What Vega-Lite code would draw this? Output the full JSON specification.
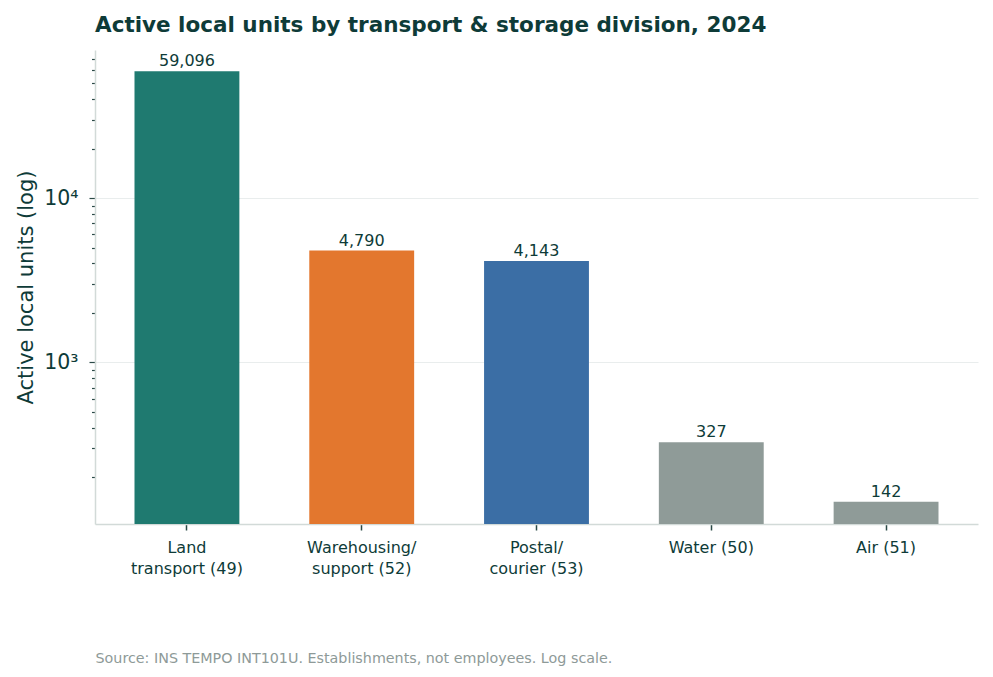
{
  "$schema": "https://vega.github.io/schema/vega-lite/v6.json",
  "autosize": "none",
  "width": 883,
  "height": 474,
  "padding": {"left": 95, "top": 50, "right": 15, "bottom": 153},
  "background": "white",
  "title": {
    "text": "Active local units by transport & storage division, 2024",
    "anchor": "start",
    "frame": "group",
    "font": "DejaVu Sans",
    "fontSize": 21.5,
    "fontWeight": "bold",
    "color": "#0e3b38",
    "offset": 14
  },
  "config": {
    "view": {"stroke": null},
    "font": "DejaVu Sans"
  },
  "data": {
    "values": [
      {"division": "Land\ntransport (49)", "units": 59096, "group": "land"},
      {"division": "Warehousing/\nsupport (52)", "units": 4790, "group": "warehousing"},
      {"division": "Postal/\ncourier (53)", "units": 4143, "group": "postal"},
      {"division": "Water (50)", "units": 327, "group": "other"},
      {"division": "Air (51)", "units": 142, "group": "other"}
    ]
  },
  "encoding": {
    "x": {
      "field": "division",
      "type": "nominal",
      "sort": null,
      "scale": {"paddingInner": 0.4, "paddingOuter": 0.226},
      "axis": {
        "title": "Source: INS TEMPO INT101U. Establishments, not employees. Log scale.",
        "titleAnchor": "start",
        "titleFontSize": 14.3,
        "titleFontWeight": "normal",
        "titleColor": "#8e9a98",
        "titlePadding": 75,
        "labelAngle": 0,
        "labelFontSize": 16,
        "labelColor": "#0e3b38",
        "labelLineHeight": 21,
        "labelPadding": 9,
        "labelExpr": "split(datum.label, '\\n')",
        "tickSize": 6,
        "tickColor": "#2b4a47",
        "tickWidth": 1.5,
        "domainColor": "#d2dad8",
        "domainWidth": 1.5
      }
    },
    "y": {
      "field": "units",
      "type": "quantitative",
      "scale": {"type": "log", "domain": [104, 79500], "nice": false},
      "axis": {
        "title": "Active local units (log)",
        "titleFontSize": 21,
        "titleFontWeight": "normal",
        "titleColor": "#0e3b38",
        "titlePadding": 7,
        "values": [200, 300, 400, 500, 600, 700, 800, 900, 1000, 2000, 3000, 4000, 5000, 6000, 7000, 8000, 9000, 10000, 20000, 30000, 40000, 50000, 60000, 70000],
        "labelExpr": "datum.value === 1000 ? '10³' : datum.value === 10000 ? '10⁴' : ''",
        "labelFontSize": 20.5,
        "labelColor": "#0e3b38",
        "labelPadding": 11,
        "tickColor": "#2b4a47",
        "tickSize": {"condition": {"test": "datum.value === 1000 || datum.value === 10000", "value": 6}, "value": 3.5},
        "tickWidth": 1.2,
        "grid": true,
        "gridColor": "#e9eded",
        "gridWidth": 1.2,
        "gridOpacity": {"condition": {"test": "datum.value === 1000 || datum.value === 10000", "value": 1}, "value": 0},
        "domainColor": "#d2dad8",
        "domainWidth": 1.5
      }
    }
  },
  "layer": [
    {
      "mark": {"type": "bar"},
      "encoding": {
        "y2": {"datum": 104},
        "color": {
          "field": "group",
          "type": "nominal",
          "scale": {
            "domain": ["land", "warehousing", "postal", "other"],
            "range": ["#1f7a70", "#e3772e", "#3b6ea5", "#8f9b98"]
          },
          "legend": null
        }
      }
    },
    {
      "mark": {"type": "text", "baseline": "bottom", "dy": -2, "fontSize": 16, "color": "#0e3b38"},
      "encoding": {
        "text": {"field": "units", "type": "quantitative", "format": ","}
      }
    }
  ]
}
